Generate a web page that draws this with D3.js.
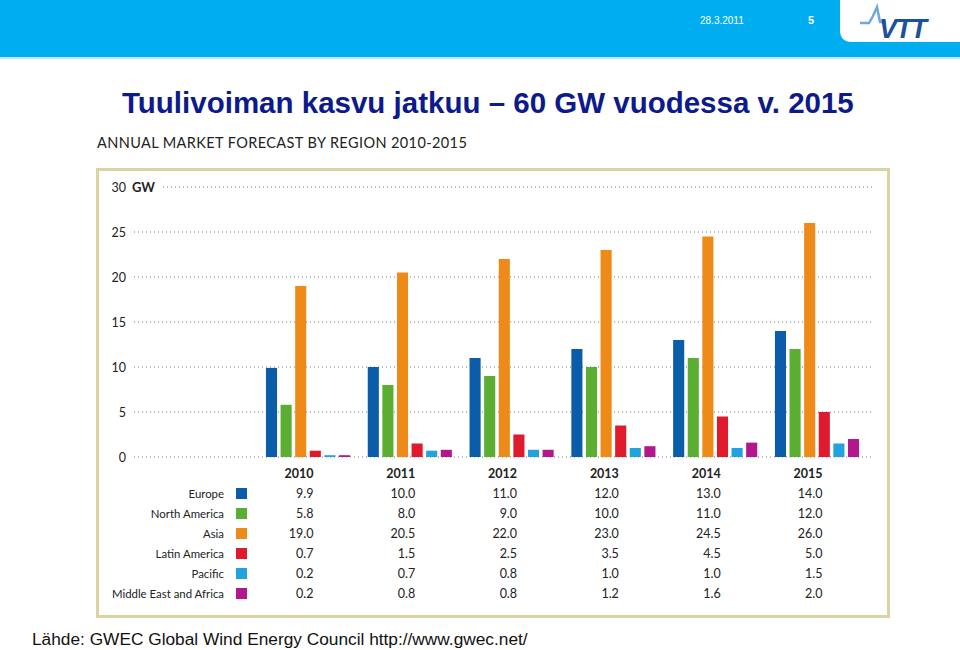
<!DOCTYPE html>
<html>
<head>
<meta charset="utf-8">
<script src="https://cdn.jsdelivr.net/npm/d3@7"></script>
<style>
  body { margin: 0; background: #fff; }
  svg { display: block; }
  .chart text { font-family: Lato, "Open Sans", sans-serif; fill: #222; }
</style>
</head>
<body>
<div id="chart"></div>
<script>
const years = ["2010", "2011", "2012", "2013", "2014", "2015"];
const regions = ["Europe", "North America", "Asia", "Latin America", "Pacific", "Middle East and Africa"];
const regionColors = ["#0b5ca9", "#5cae33", "#ee8a17", "#df1a2d", "#22a3de", "#b2188b"];
const europe = [9.9, 10.0, 11.0, 12.0, 13.0, 14.0];
const northAmerica = [5.8, 8.0, 9.0, 10.0, 11.0, 12.0];
const asia = [19.0, 20.5, 22.0, 23.0, 24.5, 26.0];
const latinAmerica = [0.7, 1.5, 2.5, 3.5, 4.5, 5.0];
const pacific = [0.2, 0.7, 0.8, 1.0, 1.0, 1.5];
const middleEastAfrica = [0.2, 0.8, 0.8, 1.2, 1.6, 2.0];
const yTicks = [0, 5, 10, 15, 20, 25, 30];

const series = [europe, northAmerica, asia, latinAmerica, pacific, middleEastAfrica];
const data = years.flatMap((yr, i) =>
  regions.map((r, j) => ({ year: yr, region: r, value: series[j][i] }))
);

const width = 960, height = 650;
const svg = d3.select("#chart").append("svg").attr("width", width).attr("height", height);

// header band
svg.append("rect").attr("x", 0).attr("y", 0).attr("width", width).attr("height", 57).attr("fill", "#00aeef");
svg.append("rect").attr("x", 0).attr("y", 57).attr("width", width).attr("height", 2).attr("fill", "#bfe9fa");
svg.append("path")
  .attr("d", "M840,0 H960 V42 H852 Q840,42 840,30 Z")
  .attr("fill", "#fff");
svg.append("text").attr("x", 700).attr("y", 24)
  .attr("font-family", "Liberation Sans, Arial, sans-serif").attr("font-size", 10)
  .attr("fill", "#fff").text("28.3.2011");
svg.append("text").attr("x", 808).attr("y", 24)
  .attr("font-family", "Liberation Sans, Arial, sans-serif").attr("font-size", 11).attr("font-weight", "bold")
  .attr("fill", "#fff").text("5");
// VTT logo
svg.append("path")
  .attr("d", "M860,23 H869 L873,16 L877,7 L880,22 H886")
  .attr("fill", "none").attr("stroke", "#6fa8dc").attr("stroke-width", 2.5);
svg.append("text").attr("x", 879).attr("y", 38)
  .attr("font-family", "Liberation Sans, Arial, sans-serif").attr("font-size", 27)
  .attr("font-weight", "bold").attr("font-style", "italic").attr("letter-spacing", -1.5)
  .attr("fill", "#1c4f9c").text("VTT");

// title
svg.append("text").attr("x", 122).attr("y", 113)
  .attr("font-family", "Liberation Sans, Arial, sans-serif").attr("font-size", 29.5).attr("font-weight", "bold")
  .attr("fill", "#0c1a8c").text("Tuulivoiman kasvu jatkuu – 60 GW vuodessa v. 2015");

const g = svg.append("g").attr("class", "chart");

g.append("text").attr("x", 97).attr("y", 148)
  .attr("font-size", 14.5).attr("letter-spacing", 0.4).attr("fill", "#111")
  .text("ANNUAL MARKET FORECAST BY REGION 2010-2015");

// frame
g.append("rect").attr("x", 97.5).attr("y", 169.5).attr("width", 791).attr("height", 447)
  .attr("fill", "#fff").attr("stroke", "#dcd3a3").attr("stroke-width", 3);

const y = d3.scaleLinear().domain([0, 30]).range([457, 187]);
const x0 = d3.scaleBand().domain(years).range([264.5, 860.5]).paddingInner(0.145).paddingOuter(0);
const x1 = d3.scaleBand().domain(regions).range([0, x0.bandwidth()]).paddingInner(0.24).paddingOuter(0.1);
const color = d3.scaleOrdinal().domain(regions).range(regionColors);

// grid
const grid = g.append("g");
grid.selectAll("line").data(yTicks).join("line")
  .attr("x1", d => d === 30 ? 163 : 134).attr("x2", 873)
  .attr("y1", d => y(d)).attr("y2", d => y(d))
  .attr("stroke", "#777").attr("stroke-width", 1).attr("stroke-dasharray", "1,3");

// y axis labels via axis
const yAxis = g.append("g").attr("transform", "translate(126,0)")
  .call(d3.axisLeft(y).tickValues(yTicks).tickSize(0).tickPadding(0));
yAxis.select(".domain").remove();
yAxis.selectAll("text").attr("font-size", 12.5).attr("fill", "#222")
  .attr("font-family", "Lato, \"Open Sans\", sans-serif");
g.append("text").attr("x", 132).attr("y", y(30)).attr("dy", "0.35em")
  .attr("font-size", 13).attr("font-weight", "bold").text("GW");

// bars
g.append("g").selectAll("rect").data(data).join("rect")
  .attr("x", d => x0(d.year) + x1(d.region))
  .attr("width", x1.bandwidth())
  .attr("y", d => y(d.value))
  .attr("height", d => y(0) - y(d.value))
  .attr("fill", d => color(d.region));

// table
const colRight = d => x0(d) + 49;
const rowY = d3.scalePoint().domain(regions).range([494, 594]);

g.append("g").selectAll("text").data(years).join("text")
  .attr("x", colRight).attr("y", 474).attr("dy", "0.35em")
  .attr("text-anchor", "end").attr("font-size", 12.5).attr("font-weight", "bold")
  .text(d => d);

const rows = g.append("g").selectAll("g").data(regions).join("g")
  .attr("transform", d => `translate(0,${rowY(d)})`);
rows.append("text").attr("x", 224).attr("dy", "0.35em")
  .attr("text-anchor", "end").attr("font-size", 11.4).text(d => d);
rows.append("rect").attr("x", 236).attr("y", -6).attr("width", 11).attr("height", 11)
  .attr("fill", d => color(d));

g.append("g").selectAll("text").data(data).join("text")
  .attr("x", d => colRight(d.year)).attr("y", d => rowY(d.region)).attr("dy", "0.35em")
  .attr("text-anchor", "end").attr("font-size", 12.5)
  .text(d => d3.format(".1f")(d.value));

// source
svg.append("text").attr("x", 32).attr("y", 645)
  .attr("font-family", "Liberation Sans, Arial, sans-serif").attr("font-size", 17.3)
  .attr("fill", "#111").text("Lähde: GWEC Global Wind Energy Council http://www.gwec.net/");
</script>
</body>
</html>
